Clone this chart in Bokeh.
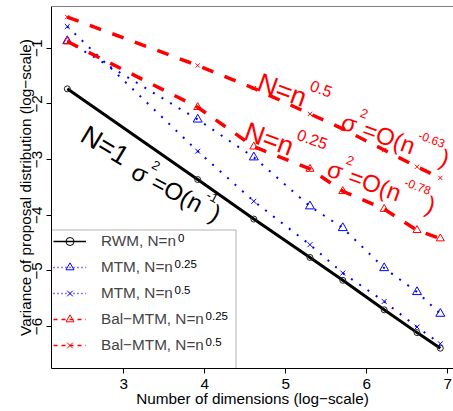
import math
import numpy as np
from bokeh.plotting import figure
from bokeh.models import (Range1d, FixedTicker, Span, Legend, LegendItem,
                          BoxAnnotation, ColumnDataSource)
from bokeh.embed import file_html
from bokeh.resources import INLINE
from bokeh.core.properties import value

# ---------------- data ----------------
n_dims = [10, 50, 100, 200, 300, 500, 750, 1000]
rwm = [-1.73, -3.36, -4.07, -4.76, -5.17, -5.70, -6.11, -6.39]
mtm_025 = [-0.87, -2.28, -2.96, -3.84, -4.23, -4.95, -5.38, -5.77]
mtm_05 = [-0.61, -2.85, -3.75, -4.53, -5.04, -5.55, -6.01, -6.31]
bal_025 = [-0.88, -2.06, -2.77, -3.17, -3.57, -3.89, -4.27, -4.42]
bal_05 = [-0.44, -1.31, -1.72, -2.18, -2.45, -2.83, -3.13, -3.33]

x_ticks = [3, 4, 5, 6, 7]
y_ticks = [-1, -2, -3, -4, -5, -6]
x_title = "Number of dimensions (log\u2212scale)"
y_title = "Variance of proposal distribution (log\u2212scale)"
legend_labels = ["RWM, N=n", "MTM, N=n", "MTM, N=n", "Bal\u2212MTM, N=n", "Bal\u2212MTM, N=n"]
legend_sups = ["0", "0.25", "0.5", "0.25", "0.5"]

log_n = np.log(n_dims)

FONT = "Liberation Sans"
BLUE = "#0000FF"
RED = "#FF0000"

# ---------------- layout ----------------
W, H = 453, 411
FL, FT = 51, 6
FW, FH = 402, 362
X0, X1 = 2.1074, 7.0704
Y0, Y1 = -6.7546, -0.2508


def px2x(px):
    return X0 + (px - FL) / FW * (X1 - X0)


def py2y(py):
    return Y1 - (py - FT) / FH * (Y1 - Y0)


p = figure(width=W, height=H, output_backend="svg", toolbar_location=None,
           x_range=Range1d(X0, X1), y_range=Range1d(Y0, Y1),
           min_border_left=FL, min_border_right=0, min_border_top=FT,
           min_border_bottom=H - FT - FH)
p.outline_line_color = None
p.grid.visible = False

for ax in (p.xaxis[0], p.yaxis[0]):
    ax.major_label_text_font = FONT
    ax.major_label_text_font_size = "15.3px"
    ax.axis_label_text_font = FONT
    ax.axis_label_text_font_size = "15.3px"
    ax.axis_label_text_font_style = "normal"
    ax.major_tick_out = 5
    ax.major_tick_in = 0
    ax.minor_tick_line_color = None
    ax.axis_line_color = "black"
    ax.major_tick_line_color = "black"
    ax.major_label_text_color = "black"
    ax.axis_label_text_color = "black"

p.xaxis.ticker = FixedTicker(ticks=x_ticks)
p.yaxis.ticker = FixedTicker(ticks=y_ticks)
p.yaxis.major_label_overrides = {float(t): "\u2212" + str(abs(t)) for t in y_ticks}
p.yaxis.major_label_orientation = "vertical"
p.xaxis.axis_label = x_title
p.yaxis.axis_label = y_title
p.xaxis.major_label_standoff = 5
p.xaxis.axis_label_standoff = -2
p.yaxis.major_label_standoff = 4
p.yaxis.axis_label_standoff = -4

p.add_layout(Span(location=Y1, dimension="width", line_color="black", line_width=1))

# ---------------- series ----------------
p.line(log_n, rwm, line_color="black", line_width=3)
p.scatter(log_n, rwm, marker="circle", size=6, fill_color=None, line_color="#222222", line_width=1)

p.line(log_n, mtm_025, line_color=BLUE, line_width=2, line_dash="2 8")
p.scatter(log_n, mtm_025, marker="triangle", size=9, fill_color=None, line_color=BLUE, line_width=1)

p.line(log_n, mtm_05, line_color=BLUE, line_width=2, line_dash="2 8")
p.scatter(log_n, mtm_05, marker="x", size=7, line_color=BLUE, line_width=1)

p.line(log_n, bal_025, line_color=RED, line_width=3.5, line_dash="12 12")
p.scatter(log_n, bal_025, marker="triangle", size=8, fill_color=None, line_color=RED, line_width=1)

p.line(log_n, bal_05, line_color=RED, line_width=3.5, line_dash="12 12")
p.scatter(log_n, bal_05, marker="x", size=6, line_color=RED, line_width=1)

# ---------------- rotated annotations ----------------
CW = {'N': .722, '=': .584, 'n': .556, '1': .556, '\u03c3': .6, 'O': .778, '(': .333,
      ')': .333, '0': .556, '.': .278, '2': .556, '5': .556, '6': .556, '3': .556,
      '7': .556, '8': .556, '-': .333, ' ': .278, 'R': .722, 'W': .944, 'M': .833,
      ',': .278, 'T': .611, 'B': .667, 'a': .556, 'l': .222, '\u2212': .584}


def twidth(t, s):
    return sum(CW.get(c, .556) for c in t) * s


def rich(x_px, y_px, theta, pieces, color):
    th = math.radians(theta)
    d = 0.0
    xs, ys, ts, fs = [], [], [], []
    for t, s, r in pieces:
        sx = x_px + d * math.cos(th) + r * math.sin(th)
        sy = y_px + d * math.sin(th) - r * math.cos(th)
        xs.append(px2x(sx))
        ys.append(py2y(sy))
        ts.append(t)
        fs.append("%.1fpx" % s)
        d += twidth(t, s) + (1.0 if r else 0.0)
    src = ColumnDataSource(dict(x=xs, y=ys, text=ts, fs=fs))
    p.text(x="x", y="y", text="text", source=src, angle=-theta, angle_units="deg",
           text_font=value(FONT), text_font_size="fs", text_color=color,
           text_align="left", text_baseline="alphabetic")


rich(83, 132, 31, [("N=1", 27, 0)], "black")
rich(133, 169, 28, [("\u03c3", 24, 0), ("2", 13, 14), ("=O(n", 24, 0),
                    ("-1", 13, 13), (")", 24, 0)], "black")
rich(258, 81, 20, [("N=n", 27, 0), ("0.5", 16, 15)], RED)
rich(342, 120, 20, [("\u03c3", 24, 0), ("2", 13, 14), ("=O(n", 24, 0),
                    ("-0.63", 12, 13), (")", 24, 0)], RED)
rich(245, 130, 20, [("N=n", 27, 0), ("0.25", 16, 15)], RED)
rich(328, 167, 20, [("\u03c3", 24, 0), ("2", 13, 14), ("=O(n", 24, 0),
                    ("-0.78", 12, 13), (")", 24, 0)], RED)

# ---------------- legend ----------------
LB_L, LB_T, LB_R, LB_B = 51, 229.5, 235.5, 368
p.add_layout(BoxAnnotation(left=px2x(LB_L), right=px2x(LB_R), top=py2y(LB_T), bottom=py2y(LB_B),
                           fill_alpha=0, line_color="black", line_width=1))

series_for_legend = [rwm, mtm_025, mtm_05, bal_025, bal_05]
styles = [
    dict(color="black", dash="solid", marker="circle", size=6),
    dict(color=BLUE, dash="1 3", marker="triangle", size=8),
    dict(color=BLUE, dash="1 3", marker="x", size=7),
    dict(color=RED, dash="4 4", marker="triangle", size=8),
    dict(color=RED, dash="4 4", marker="x", size=6),
]
items = []
for lab, st, ys in zip(legend_labels, styles, series_for_legend):
    lr = p.line(log_n, ys, line_color=st["color"], line_width=1.3, line_dash=st["dash"], visible=False)
    sr = p.scatter(log_n, ys, marker=st["marker"], size=st["size"], fill_color=None,
                   line_color=st["color"], line_width=1, visible=False)
    items.append(LegendItem(label=lab, renderers=[lr, sr]))

ROW = 26
PAD = 2
leg_h = 2 * PAD + 5 * 20 + 4 * (ROW - 20)
leg_top = 240.7 - 10 - PAD
legend = Legend(items=items, location=(0, int(round(FT + FH - (leg_top + leg_h)))),
                orientation="vertical", padding=PAD, margin=0, spacing=ROW - 20,
                label_height=20, glyph_height=20, glyph_width=33, label_standoff=15,
                label_text_font=FONT, label_text_font_size="15.3px", label_text_baseline="middle",
                border_line_alpha=0, background_fill_alpha=0, click_policy="none")
p.add_layout(legend)

# legend superscripts
sx, sy, st_ = [], [], []
for i, (lab, sup) in enumerate(zip(legend_labels, legend_sups)):
    cx = 101.7 + twidth(lab, 15.3) + 0.5
    cy = 240.7 + i * ROW - 3.0
    sx.append(px2x(cx))
    sy.append(py2y(cy))
    st_.append(sup)
p.text(x=sx, y=sy, text=st_, text_font=value(FONT), text_font_size="11.5px",
       text_color="black", text_align="left", text_baseline="alphabetic")

open("out.html", "w").write(file_html(p, INLINE))
